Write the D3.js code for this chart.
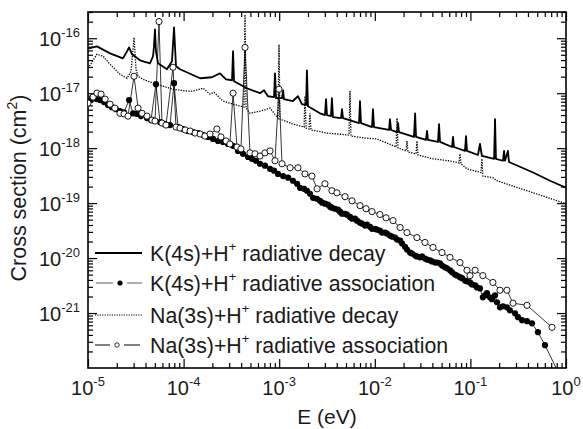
<!DOCTYPE html>
<html><head><meta charset="utf-8">
<script src="https://cdn.jsdelivr.net/npm/d3@7"></script>
<style>body{margin:0;background:#fff}svg{display:block}</style>
</head><body><svg id="c" width="583" height="429"></svg>
<script>
// ---------- data ----------
const xMajor = [1e-5, 1e-4, 1e-3, 1e-2, 1e-1, 1];
const xTickExp = ["-5", "-4", "-3", "-2", "-1", "0"];
const yMajor = [1e-21, 1e-20, 1e-19, 1e-18, 1e-17, 1e-16];
const yTickExp = ["-21", "-20", "-19", "-18", "-17", "-16"];
const seriesNames = ["K(4s)+H", "K(4s)+H", "Na(3s)+H", "Na(3s)+H"];
const seriesSuffix = [" radiative decay", " radiative association", " radiative decay", " radiative association"];
const xTitle = "E (eV)";
const yTitle = "Cross section (cm";

// K(4s)+H+ radiative decay  [E (eV), sigma (cm^2)]
const kDecay = [
 [1.00e-5,6.5e-17],[1.24e-5,7.1e-17],[1.70e-5,5.3e-17],[2.32e-5,4.3e-17],[2.56e-5,5.8e-17],[2.69e-5,6.8e-17],
 [2.89e-5,5.1e-17],[3.50e-5,3.96e-17],[4.45e-5,3.5e-17],[4.79e-5,4.7e-17],[4.90e-5,7.1e-17],[5.02e-5,1.44e-16],
 [5.14e-5,5.8e-17],[5.40e-5,3.5e-17],[6.70e-5,2.72e-17],[7.56e-5,3.8e-17],[7.94e-5,1.57e-16],[8.33e-5,3.1e-17],
 [9.17e-5,2.72e-17],[1.49e-4,1.87e-17],[1.98e-4,1.95e-17],[2.40e-4,2.3e-17],[2.78e-4,1.79e-17],[3.21e-4,1.72e-17],
 [3.29e-4,5.8e-17],[3.37e-4,1.65e-17],[4.60e-4,1.23e-17],[6.30e-4,1.0e-17],[6.93e-4,1.13e-17],[7.63e-4,8.8e-18],
 [8.83e-4,8.5e-18],[9.04e-4,2.3e-17],[9.27e-4,8.1e-18],[1.07e-3,8.1e-18],[1.10e-3,1.13e-17],[1.12e-3,7.8e-18],
 [1.39e-3,7.2e-18],[1.57e-3,8.8e-18],[1.73e-3,6.3e-18],[1.91e-3,6.07e-18],[1.95e-3,2.61e-17],[2.0e-3,5.8e-18],
 [2.67e-3,4.3e-18],[3.01e-3,4.0e-18],[3.09e-3,7.8e-18],[3.16e-3,4.0e-18],[3.48e-3,3.83e-18],[3.56e-3,8.1e-18],
 [3.65e-3,3.67e-18],[4.43e-3,3.52e-18],[4.54e-3,5.1e-18],[4.65e-3,3.52e-18],[6.84e-3,2.86e-18],[7.0e-3,7.2e-18],
 [7.17e-3,2.86e-18],[9.35e-3,2.42e-18],[9.57e-3,5.1e-18],[9.81e-3,2.42e-18],[1.41e-2,2.14e-18],[1.44e-2,3.38e-18],
 [1.48e-2,2.14e-18],[1.71e-2,1.96e-18],[1.75e-2,2.86e-18],[1.79e-2,1.96e-18],[2.57e-2,1.6e-18],[2.64e-2,4.3e-18],
 [2.70e-2,1.6e-18],[3.43e-2,1.41e-18],[3.52e-2,2.05e-18],[3.60e-2,1.41e-18],[4.58e-2,1.30e-18],[4.70e-2,2.74e-18],
 [4.81e-2,1.30e-18],[6.43e-2,1.05e-18],[6.58e-2,1.6e-18],[6.73e-2,1.05e-18],[8.78e-2,8.9e-19],[9.0e-2,1.66e-18],
 [9.21e-2,8.9e-19],[0.120,7.5e-19],[0.126,1.19e-18],[0.132,7.2e-19],[0.177,6.4e-19],[0.181,3.38e-18],
 [0.185,6.4e-19],[0.219,5.9e-19],[0.225,8.9e-19],[0.230,5.9e-19],[0.247,8.9e-19],[0.253,5.6e-19],
 [0.279,5.2e-19],[0.452,3.6e-19],[0.681,2.55e-19],[1.0,1.9e-19]
];
// K(4s)+H+ radiative association
const kAssoc = [
 [1.00e-5,7.2e-18],[1.10e-5,7.8e-18],[1.24e-5,7.8e-18],[1.34e-5,7.5e-18],[1.47e-5,6.9e-18],[1.62e-5,6.07e-18],
 [1.78e-5,5.57e-18],[1.96e-5,5.1e-18],[2.16e-5,4.7e-18],[2.38e-5,4.5e-18],[2.69e-5,7.5e-18],[2.96e-5,4.3e-18],
 [3.26e-5,4.2e-18],[3.58e-5,3.83e-18],[4.14e-5,3.52e-18],[4.56e-5,3.24e-18],[5.14e-5,1.46e-17],[5.66e-5,2.98e-18],
 [6.38e-5,2.74e-18],[7.21e-5,2.63e-18],[7.94e-5,1.52e-17],[8.74e-5,2.42e-18],[9.86e-5,2.23e-18],[1.11e-4,2.05e-18],
 [1.25e-4,1.96e-18],[1.42e-4,1.88e-18],[1.60e-4,1.73e-18],[1.80e-4,1.6e-18],[2.03e-4,1.47e-18],[2.29e-4,1.35e-18],
 [2.58e-4,1.30e-18],[2.91e-4,1.19e-18],[3.29e-4,1.1e-18],[3.71e-4,8.9e-19],[4.18e-4,7.9e-19],[4.72e-4,6.9e-19],
 [5.19e-4,6.4e-19],[5.71e-4,5.9e-19],[6.30e-4,5.2e-19],[7.10e-4,4.8e-19],[8.02e-4,4.2e-19],[8.83e-4,3.9e-19],
 [9.71e-4,3.4e-19],[1.10e-3,3.1e-19],[1.24e-3,2.9e-19],[1.39e-3,2.55e-19],[1.54e-3,2.25e-19],[1.65e-3,1.9e-19],
 [1.82e-3,1.82e-19],[1.95e-3,1.68e-19],[2.10e-3,1.48e-19],[2.26e-3,1.25e-19],[2.48e-3,1.20e-19],[2.67e-3,1.1e-19],
 [2.81e-3,1.02e-19],[3.01e-3,9.75e-20],[3.24e-3,9.35e-20],[3.40e-3,8.6e-20],[3.56e-3,8.26e-20],[3.83e-3,7.9e-20],
 [4.12e-3,7.59e-20],[4.32e-3,7.0e-20],[4.54e-3,6.43e-20],[4.88e-3,6.4e-20],[5.12e-3,6.17e-20],[5.50e-3,5.6e-20],
 [5.78e-3,5.2e-20],[6.21e-3,5.2e-20],[6.52e-3,4.8e-20],[7.0e-3,4.4e-20],[7.34e-3,4.24e-20],[7.89e-3,3.9e-20],
 [8.28e-3,4.06e-20],[8.91e-3,3.7e-20],[9.35e-3,3.4e-20],[1.0e-2,3.4e-20],[1.05e-2,3.3e-20],[1.13e-2,3.16e-20],
 [1.19e-2,2.91e-20],[1.28e-2,2.91e-20],[1.34e-2,2.79e-20],[1.44e-2,2.57e-20],[1.51e-2,2.46e-20],[1.63e-2,2.36e-20],
 [1.71e-2,2.17e-20],[1.84e-2,2.08e-20],[1.93e-2,1.84e-20],[2.07e-2,1.6e-20],[2.17e-2,1.43e-20],[2.34e-2,1.26e-20],
 [2.45e-2,1.21e-20],[2.64e-2,1.11e-20],[2.76e-2,1.07e-20],[2.97e-2,1.03e-20],[3.12e-2,1.07e-20],[3.35e-2,9.8e-21],
 [3.52e-2,9.4e-21],[3.78e-2,9.1e-21],[3.96e-2,8.7e-21],[4.27e-2,8.3e-21],[4.48e-2,8.3e-21],[4.81e-2,8.0e-21],
 [5.05e-2,7.3e-21],[5.42e-2,6.8e-21],[5.69e-2,6.5e-21],[6.12e-2,6.0e-21],[6.43e-2,5.5e-21],[6.9e-2,5.0e-21],
 [7.24e-2,4.8e-21],[7.78e-2,4.5e-21],[8.17e-2,4.3e-21],[8.78e-2,3.9e-21],[9.21e-2,3.77e-21],[9.9e-2,3.6e-21],
 [0.104,3.32e-21],[0.112,3.2e-21],[0.117,2.93e-21],[0.126,2.8e-21],[0.135,1.93e-21],[0.142,2.1e-21],
 [0.149,2.3e-21],[0.160,1.93e-21],[0.168,1.78e-21],[0.181,2.1e-21],[0.190,1.57e-21],[0.204,1.27e-21],
 [0.219,1.33e-21],[0.241,1.27e-21],[0.259,1.12e-21],[0.293,9.9e-22],[0.315,8.4e-22],[0.347,7.4e-22],
 [0.391,7.1e-22],[0.441,6.5e-22],[0.509,4.49e-22],[0.603,2.6e-22],[0.826,8.5e-23]
];
// Na(3s)+H+ radiative decay
const naDecay = [
 [1.00e-5,2.84e-17],[1.24e-5,5.1e-17],[1.44e-5,4.7e-17],[1.70e-5,3.35e-17],[2.16e-5,2.21e-17],[2.56e-5,1.87e-17],
 [2.82e-5,2.5e-17],[3.03e-5,1.03e-16],[3.18e-5,2.72e-17],[3.34e-5,2.03e-17],[3.76e-5,1.79e-17],[4.79e-5,1.52e-17],
 [6.09e-5,1.34e-17],[7.75e-5,1.18e-17],[1.09e-4,1.09e-17],[1.25e-4,1.09e-17],[1.60e-4,1.23e-17],[1.89e-4,9.6e-18],
 [2.08e-4,1.04e-17],[2.58e-4,7.2e-18],[3.29e-4,6.3e-18],[4.28e-4,5.6e-18],[4.39e-4,2.7e-16],[4.50e-4,5.35e-18],
 [4.95e-4,4.3e-18],[6.30e-4,4.7e-18],[8.02e-4,5.35e-18],[9.71e-4,3.52e-18],[9.95e-4,7.7e-17],[1.02e-3,3.38e-18],
 [1.39e-3,2.74e-18],[1.82e-3,2.42e-18],[1.86e-3,8.8e-18],[1.91e-3,2.32e-18],[2.05e-3,2.23e-18],[2.10e-3,4.3e-18],
 [2.15e-3,2.14e-18],[2.49e-3,2.05e-18],[3.16e-3,1.88e-18],[5.37e-3,1.73e-18],[5.50e-3,1.09e-17],[5.63e-3,1.66e-18],
 [7.89e-3,1.53e-18],[1.05e-2,1.47e-18],[1.67e-2,1.05e-18],[1.71e-2,3.52e-18],[1.75e-2,1.01e-18],[2.12e-2,8.9e-19],
 [2.17e-2,1.35e-18],[2.22e-2,8.5e-19],[2.70e-2,7.9e-19],[2.76e-2,1.35e-18],[2.83e-2,7.5e-19],[4.06e-2,6.4e-19],
 [5.83e-2,5.9e-19],[7.6e-2,5.4e-19],[7.78e-2,7.9e-19],[7.97e-2,5.2e-19],[9.21e-2,4.2e-19],[0.129,3.6e-19],
 [0.132,6.4e-19],[0.135,3.1e-19],[0.172,2.9e-19],[0.190,2.55e-19],[1.0,9.75e-20]
];
// Na(3s)+H+ radiative association
const naAssoc = [
 [1.00e-5,6.6e-18],[1.13e-5,8.5e-18],[1.24e-5,1.0e-17],[1.37e-5,9.6e-18],[1.51e-5,7.8e-18],[1.70e-5,6.3e-18],
 [1.91e-5,5.35e-18],[2.16e-5,4.3e-18],[2.38e-5,4.2e-18],[2.62e-5,3.83e-18],[3.03e-5,2.03e-17],[3.34e-5,5.35e-18],
 [3.67e-5,4.3e-18],[4.14e-5,3.83e-18],[4.67e-5,3.24e-18],[5.02e-5,3.11e-18],[5.53e-5,2.01e-16],[5.94e-5,2.86e-18],
 [6.54e-5,2.63e-18],[7.75e-5,2.96e-17],[8.33e-5,2.42e-18],[9.17e-5,2.32e-18],[1.04e-4,2.14e-18],[1.17e-4,2.05e-18],
 [1.32e-4,1.88e-18],[1.49e-4,1.81e-18],[1.67e-4,1.66e-18],[1.89e-4,1.81e-18],[2.23e-4,2.23e-18],[2.46e-4,1.6e-18],
 [2.78e-4,1.35e-18],[3.05e-4,1.19e-18],[3.29e-4,1.0e-17],[3.62e-4,1.05e-18],[3.98e-4,9.7e-19],[4.39e-4,6.8e-17],
 [4.95e-4,8.2e-19],[5.58e-4,7.9e-19],[6.30e-4,7.2e-19],[7.10e-4,8.2e-19],[8.02e-4,8.9e-19],[9.04e-4,5.9e-19],
 [9.95e-4,1.18e-17],[1.07e-3,5.2e-19],[1.30e-3,4.4e-19],[1.57e-3,4.4e-19],[1.86e-3,3.4e-19],[2.20e-3,3.1e-19],
 [2.49e-3,1.82e-19],[3.01e-3,2.25e-19],[3.56e-3,1.68e-19],[4.02e-3,1.54e-19],[4.88e-3,1.31e-19],[5.78e-3,1.1e-19],
 [7.0e-3,9.0e-20],[8.09e-3,7.9e-20],[9.35e-3,7.0e-20],[1.13e-2,6.2e-20],[1.31e-2,5.4e-20],[1.55e-2,4.8e-20],
 [1.84e-2,3.6e-20],[2.17e-2,2.91e-20],[2.76e-2,2.36e-20],[3.35e-2,1.92e-20],[4.06e-2,1.56e-20],[5.05e-2,1.26e-20],
 [6.12e-2,1.03e-20],[7.78e-2,8.3e-21],[9.21e-2,6.0e-21],[9.9e-2,4.8e-21],[0.112,6.0e-21],[0.135,4.8e-21],
 [0.172,3.6e-21],[0.204,2.6e-21],[0.241,2.6e-21],[0.279,1.51e-21],[0.391,1.38e-21],[0.714,5.5e-22]
];

// ---------- drawing ----------
const FONT = "Arial, 'Liberation Sans', Helvetica, sans-serif";
const L = 88, R = 566, T = 12, B = 368;
const svg = d3.select("#c").style("font-family", FONT);
const x = d3.scaleLog().domain([1e-5, 1]).range([L, R]);
const y = d3.scaleLog().domain([1e-22, 3e-16]).range([B, T]);

function minorsOf(scale) {
  const [a, b] = scale.domain();
  const out = [];
  for (let e = Math.floor(Math.log10(a)); e <= Math.ceil(Math.log10(b)); e++)
    for (let m = 2; m <= 9; m++) { const v = m * Math.pow(10, e); if (v >= a && v <= b) out.push(v); }
  return out;
}
const xMinor = minorsOf(x), yMinor = minorsOf(y);

svg.append("defs").append("clipPath").attr("id", "clip")
  .append("rect").attr("x", L).attr("y", T).attr("width", R - L).attr("height", B - T);

function tickAxis(gen, vals, size, tf) {
  const g = svg.append("g").attr("transform", tf)
    .call(gen.tickValues(vals).tickSize(size).tickFormat(""));
  g.select(".domain").remove();
  g.selectAll("line").attr("stroke", "#000").attr("stroke-width", 1.2);
  return g;
}
tickAxis(d3.axisBottom(x), xMajor, -9, `translate(0,${B})`);
tickAxis(d3.axisBottom(x), xMinor, -5, `translate(0,${B})`);
tickAxis(d3.axisTop(x), xMajor, -9, `translate(0,${T})`);
tickAxis(d3.axisTop(x), xMinor, -5, `translate(0,${T})`);
tickAxis(d3.axisLeft(y), yMajor, -9, `translate(${L},0)`);
tickAxis(d3.axisLeft(y), yMinor, -5, `translate(${L},0)`);
tickAxis(d3.axisRight(y), yMajor, -9, `translate(${R},0)`);
tickAxis(d3.axisRight(y), yMinor, -5, `translate(${R},0)`);

svg.append("rect").attr("x", L).attr("y", T).attr("width", R - L).attr("height", B - T)
  .attr("fill", "none").attr("stroke", "#000").attr("stroke-width", 1.6);

xMajor.forEach((v, i) => {
  const t = svg.append("text").attr("x", x(v)).attr("y", 395).attr("text-anchor", "middle")
    .attr("font-size", 20).attr("fill", "#1a1a1a");
  t.append("tspan").text("10");
  t.append("tspan").attr("font-size", 13).attr("dy", -9).text(xTickExp[i]);
});
yMajor.forEach((v, i) => {
  const t = svg.append("text").attr("x", 80).attr("y", y(v) + 8).attr("text-anchor", "end")
    .attr("font-size", 20).attr("fill", "#1a1a1a");
  t.append("tspan").text("10");
  t.append("tspan").attr("font-size", 13).attr("dy", -9).text(yTickExp[i]);
});

svg.append("text").attr("x", 327).attr("y", 424).attr("text-anchor", "middle")
  .attr("font-size", 21).attr("fill", "#1a1a1a").text(xTitle);
const yt = svg.append("text").attr("transform", "translate(26,188) rotate(-90)")
  .attr("text-anchor", "middle").attr("font-size", 21.5).attr("fill", "#1a1a1a");
yt.append("tspan").text(yTitle);
yt.append("tspan").attr("font-size", 14).attr("dy", -9).text("2");
yt.append("tspan").attr("dy", 9).text(")");

const plot = svg.append("g").attr("clip-path", "url(#clip)");
const line = d3.line().x(d => x(d[0])).y(d => y(d[1]));

plot.append("path").datum(naDecay).attr("d", line).attr("fill", "none")
  .attr("stroke", "#000").attr("stroke-width", 1.3).attr("stroke-dasharray", "1.3,1.3");
plot.append("path").datum(kDecay).attr("d", line).attr("fill", "none")
  .attr("stroke", "#000").attr("stroke-width", 1.8).attr("stroke-linejoin", "round");
plot.append("path").datum(kAssoc).attr("d", line).attr("fill", "none")
  .attr("stroke", "#000").attr("stroke-width", 0.8);
plot.append("path").datum(naAssoc).attr("d", line).attr("fill", "none")
  .attr("stroke", "#000").attr("stroke-width", 0.8);
plot.selectAll("circle.k").data(kAssoc).join("circle").attr("class", "k")
  .attr("cx", d => x(d[0])).attr("cy", d => y(d[1])).attr("r", 3.1).attr("fill", "#000");
plot.selectAll("circle.n").data(naAssoc).join("circle").attr("class", "n")
  .attr("cx", d => x(d[0])).attr("cy", d => y(d[1])).attr("r", 3.1)
  .attr("fill", "#fff").attr("stroke", "#000").attr("stroke-width", 0.9);

const rows = [253, 283, 315, 345];
const lg = svg.append("g");
lg.append("line").attr("x1", 95).attr("x2", 142).attr("y1", rows[0]).attr("y2", rows[0])
  .attr("stroke", "#000").attr("stroke-width", 1.8);
lg.append("line").attr("x1", 96).attr("x2", 113).attr("y1", rows[1]).attr("y2", rows[1]).attr("stroke", "#777").attr("stroke-width", 1.2);
lg.append("line").attr("x1", 127).attr("x2", 142).attr("y1", rows[1]).attr("y2", rows[1]).attr("stroke", "#777").attr("stroke-width", 1.2);
lg.append("circle").attr("cx", 120).attr("cy", rows[1]).attr("r", 2.6).attr("fill", "#000");
lg.append("line").attr("x1", 95).attr("x2", 142).attr("y1", rows[2]).attr("y2", rows[2])
  .attr("stroke", "#000").attr("stroke-width", 1.2).attr("stroke-dasharray", "1.2,1.2");
lg.append("line").attr("x1", 95).attr("x2", 110).attr("y1", rows[3]).attr("y2", rows[3]).attr("stroke", "#000").attr("stroke-width", 1);
lg.append("line").attr("x1", 124).attr("x2", 140).attr("y1", rows[3]).attr("y2", rows[3]).attr("stroke", "#000").attr("stroke-width", 1);
lg.append("circle").attr("cx", 117).attr("cy", rows[3]).attr("r", 2.2).attr("fill", "#fff").attr("stroke", "#000").attr("stroke-width", 0.8);

rows.forEach((ry, i) => {
  const t = lg.append("text").attr("x", 150).attr("y", ry + 7.5).attr("font-size", 21.3).attr("fill", "#1a1a1a");
  t.append("tspan").text(seriesNames[i]);
  t.append("tspan").attr("font-size", 13).attr("dy", -10).text("+");
  t.append("tspan").attr("dy", 10).text(seriesSuffix[i]);
});
</script>
</body></html>
